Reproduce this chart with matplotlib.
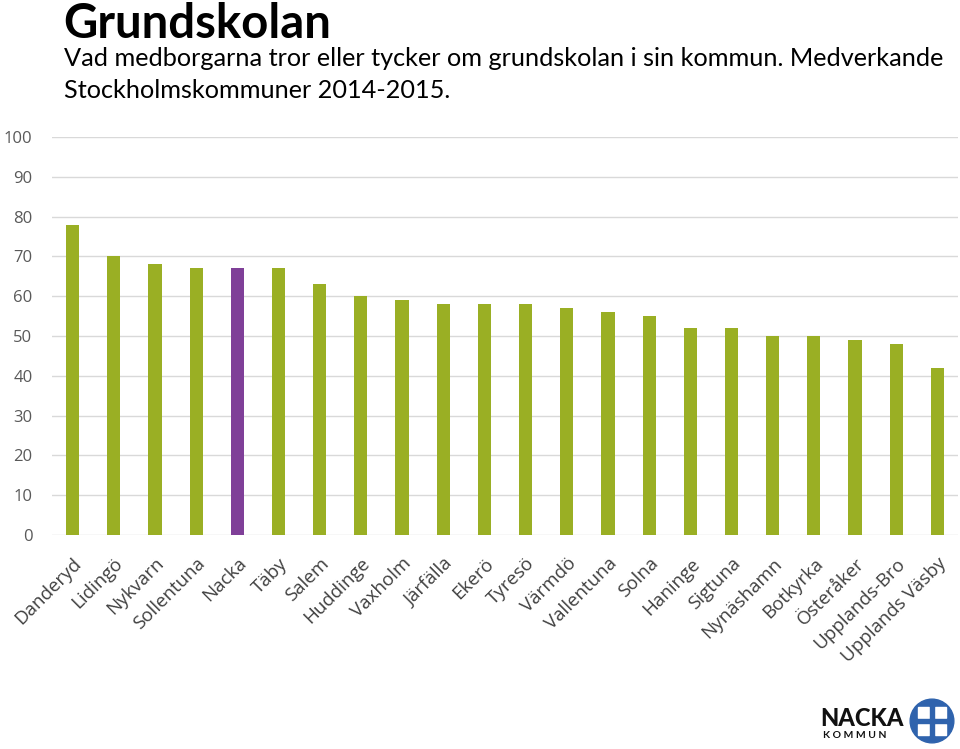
import matplotlib.pyplot as plt
from matplotlib.patches import Circle, Rectangle

# data
kommuner = ["Danderyd", "Lidingö", "Nykvarn", "Sollentuna", "Nacka", "Täby", "Salem",
            "Huddinge", "Vaxholm", "Järfälla", "Ekerö", "Tyresö", "Värmdö", "Vallentuna",
            "Solna", "Haninge", "Sigtuna", "Nynäshamn", "Botkyrka", "Österåker",
            "Upplands-Bro", "Upplands Väsby"]
varden = [78, 70, 68, 67, 67, 67, 63, 60, 59, 58, 58, 58, 57, 56, 55, 52, 52, 50, 50, 49, 48, 42]
markerad = "Nacka"

green = "#9aaf24"
purple = "#7f3f98"
farger = [purple if k == markerad else green for k in kommuner]

fig = plt.figure(figsize=(9.6, 7.49), dpi=100)
ax = fig.add_axes([52/960, 1-535/749, 906/960, 398/749])

x = range(len(kommuner))
ax.bar(x, varden, width=0.32, color=farger, zorder=3)

ax.set_ylim(0, 100)
ax.set_xlim(-0.5, len(kommuner)-0.5)
ax.set_yticks(range(0, 101, 10))
ax.yaxis.grid(True, color="#d9d9d9", linewidth=1, zorder=0)
for s in ax.spines.values():
    s.set_visible(False)
ax.tick_params(axis="both", length=0)
ax.tick_params(axis="y", labelcolor="#595959", labelsize=12, pad=14)
for lab in ax.get_yticklabels():
    lab.set_family("Open Sans")

ax.set_xticks(list(x))
ax.set_xticklabels(kommuner, rotation=45, ha="right", va="top",
                   rotation_mode="anchor", fontsize=13.5, color="#404040",
                   family="Open Sans")
ax.tick_params(axis="x", pad=14)

# titel
fig.text(63/960, 1-2/749, "Grundskolan", fontsize=34, fontweight="bold",
         family="Lato", va="top", ha="left")
fig.text(64/960, 1-47/749, "Vad medborgarna tror eller tycker om grundskolan i sin kommun. Medverkande\nStockholmskommuner 2014-2015.",
         fontsize=18.2, family="Lato", va="top", ha="left", linespacing=1.45)

# logga
fig.text(820/960, 1-719/749, "NACKA", fontsize=17, fontweight="black",
         family="Lato", va="center", ha="left", color="#111111")
fig.text(823/960, 1-735/749, "K O M M U N", fontsize=7.5, fontweight="bold",
         family="Lato", va="center", ha="left", color="#111111")
logo_ax = fig.add_axes([909/960, 1-744/749, 46/960, 46/749])
logo_ax.set_xlim(-1, 1)
logo_ax.set_ylim(-1, 1)
logo_ax.set_aspect("equal")
logo_ax.axis("off")
logo_ax.add_patch(Circle((0, 0), 0.95, color="#2f63ad"))
for (cx, cy) in [(-0.38, 0.38), (0.38, 0.38), (-0.38, -0.38), (0.38, -0.38)]:
    logo_ax.add_patch(Rectangle((cx-0.25, cy-0.25), 0.5, 0.5, color="white"))
logo_ax.add_patch(Rectangle((-0.1, -0.7), 0.2, 1.4, color="#2f63ad"))
logo_ax.add_patch(Rectangle((-0.7, -0.1), 1.4, 0.2, color="#2f63ad"))

fig.savefig("out.png", dpi=100)
